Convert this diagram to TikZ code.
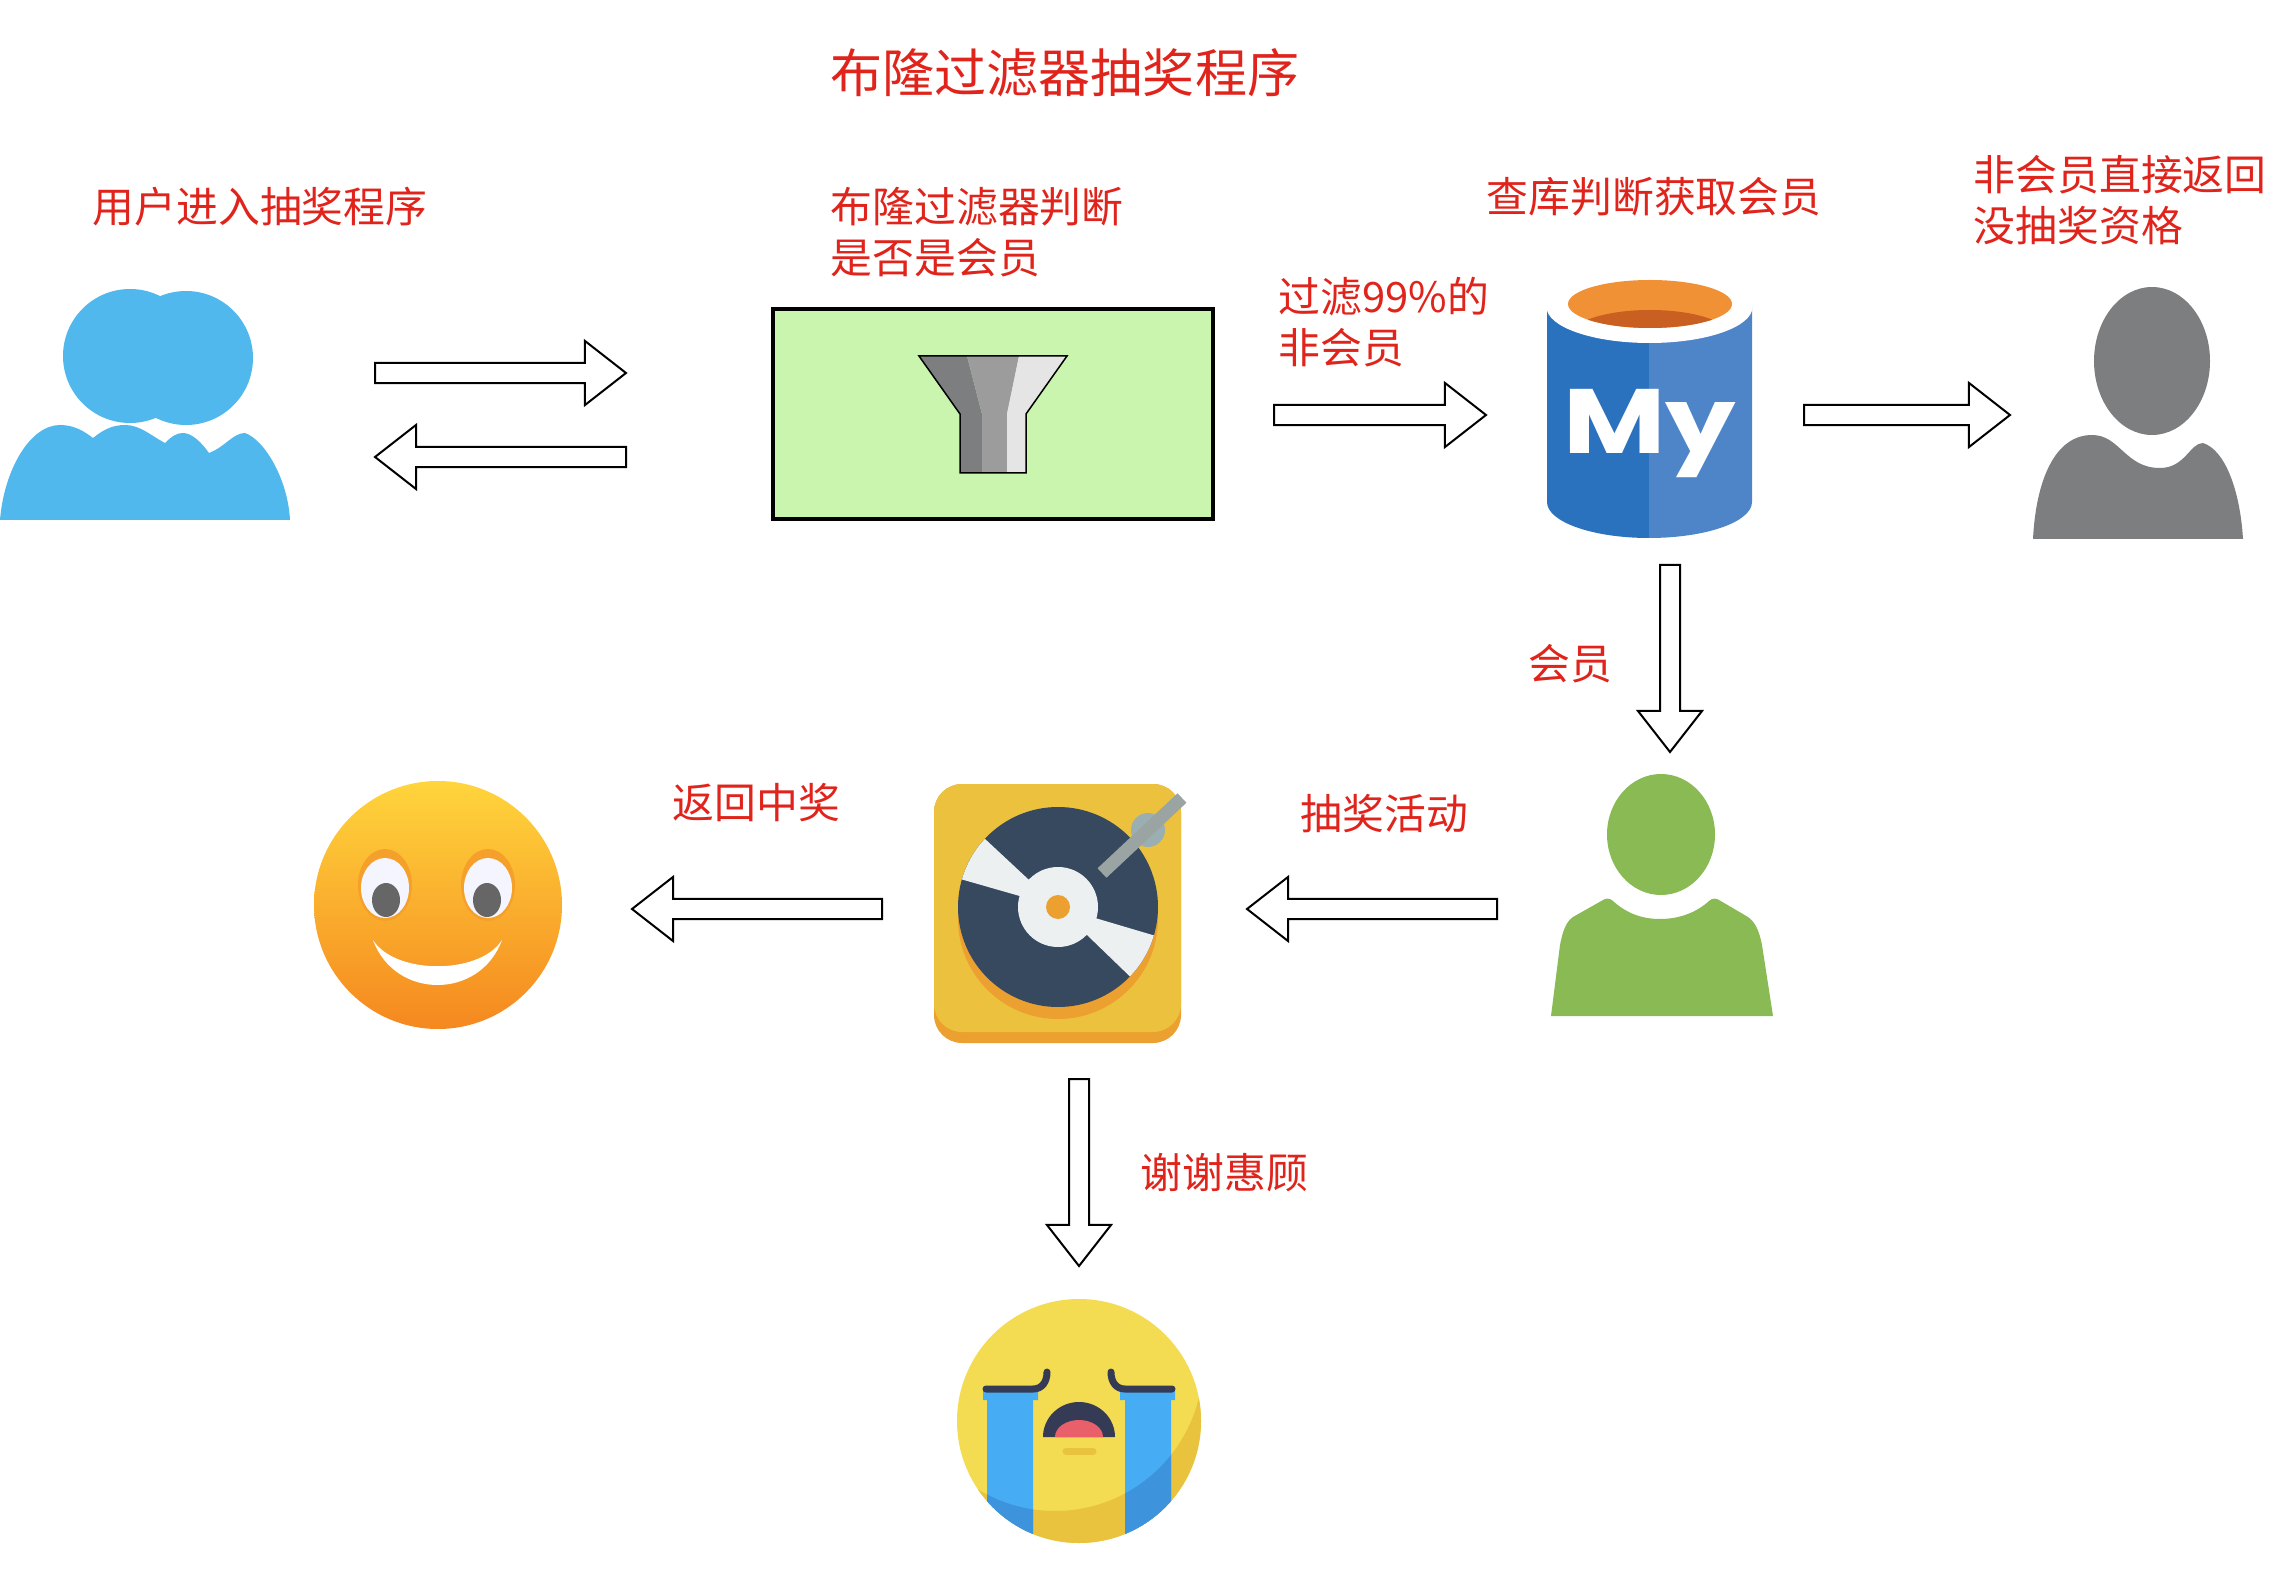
\documentclass[tikz,border=0pt]{standalone}
\usepackage{fontspec}
\usepackage{tikz}
\usetikzlibrary{calc}
\newfontfamily\cjk{Noto Sans CJK SC}
\newfontfamily\myfont{Poppins}
\definecolor{labelred}{HTML}{E0241C}
\definecolor{userblue}{HTML}{50B8EC}
\definecolor{stonegray}{HTML}{7D7E80}
\definecolor{leafgreen}{HTML}{8ABA54}
\definecolor{boxgreen}{HTML}{C9F5AF}
\definecolor{dbleft}{HTML}{2A71BE}
\definecolor{dbright}{HTML}{4E85C9}
\definecolor{dborange}{HTML}{F09135}
\definecolor{dbrust}{HTML}{C95F20}
\definecolor{deckyellow}{HTML}{ECC13D}
\definecolor{deckorange}{HTML}{EBA02F}
\definecolor{discblue}{HTML}{36495F}
\definecolor{discwhite}{HTML}{ECF0F1}
\definecolor{armgray}{HTML}{9AA5A3}
\definecolor{armbase}{HTML}{9BAEB2}
\definecolor{sadyellow}{HTML}{F3DB52}
\definecolor{sadshade}{HTML}{E9C33D}
\definecolor{tearblue}{HTML}{46ADF5}
\definecolor{teardark}{HTML}{3D93DC}
\definecolor{browink}{HTML}{353A55}
\definecolor{mouthpink}{HTML}{E9606A}
\definecolor{smiletop}{HTML}{FFD53C}
\definecolor{smilemid}{HTML}{F9B022}
\definecolor{smilelow}{HTML}{F5881F}
\definecolor{smilehalo}{HTML}{F5A02A}
\tikzset{
  redlabel/.style={anchor=west, inner sep=0pt, align=left, text=labelred, font=\cjk\fontsize{11.9}{14.5}\selectfont},
  blockarrow/.style={draw=black, fill=white, line width=0.02cm, line join=miter}
}
\newcommand{\drawBlockArrow}[2]{
  \coordinate (neck) at ($(#2)!0.41cm!(#1)$);
  \draw[blockarrow] ($(#1)!0.10cm!90:(#2)$) -- ($(neck)!0.10cm!90:(#2)$) -- ($(neck)!0.32cm!90:(#2)$)
    -- (#2) -- ($(neck)!0.32cm!-90:(#2)$) -- ($(neck)!0.10cm!-90:(#2)$) -- ($(#1)!0.10cm!-90:(#2)$) -- cycle;
}

\begin{document}
\begin{tikzpicture}[x=0.01cm, y=-0.01cm]
  \useasboundingbox (0,0) rectangle (2284,1570);

  % labels
  \node[redlabel, font=\cjk\fontsize{14.8}{18}\selectfont] (titleLabel) at (830,73) {布隆过滤器抽奖程序};
  \node[redlabel] (userLabel) at (92,207) {用户进入抽奖程序};
  \node[redlabel] (filterLabel) at (830,232) {布隆过滤器判断\\是否是会员};
  \node[redlabel] (queryLabel) at (1486,197) {查库判断获取会员};
  \node[redlabel] (denyLabel) at (1973,200) {非会员直接返回\\没抽奖资格};
  \node[redlabel] (passLabel) at (1278,322) {过滤99\%的\\非会员};
  \node[redlabel] (memberLabel) at (1528,664) {会员};
  \node[redlabel] (drawLabel) at (1300,814) {抽奖活动};
  \node[redlabel] (winLabel) at (672,803) {返回中奖};
  \node[redlabel] (loseLabel) at (1140,1173) {谢谢惠顾};

  % block arrows
  \coordinate (enterTail) at (375,373);   \coordinate (enterTip) at (626,373);
  \coordinate (backTail) at (626,457);    \coordinate (backTip) at (375,457);
  \coordinate (passTail) at (1274,415);   \coordinate (passTip) at (1486,415);
  \coordinate (denyTail) at (1804,415);   \coordinate (denyTip) at (2010,415);
  \coordinate (memberTail) at (1670,565); \coordinate (memberTip) at (1670,752);
  \coordinate (drawTail) at (1497,909);   \coordinate (drawTip) at (1247,909);
  \coordinate (winTail) at (882,909);     \coordinate (winTip) at (632,909);
  \coordinate (loseTail) at (1079,1079);  \coordinate (loseTip) at (1079,1266);
  \drawBlockArrow{enterTail}{enterTip}
  \drawBlockArrow{backTail}{backTip}
  \drawBlockArrow{passTail}{passTip}
  \drawBlockArrow{denyTail}{denyTip}
  \drawBlockArrow{memberTail}{memberTip}
  \drawBlockArrow{drawTail}{drawTip}
  \drawBlockArrow{winTail}{winTip}
  \drawBlockArrow{loseTail}{loseTip}

  % user
  \fill[userblue] (130,356) circle (67) (186,358) circle (67);
  \fill[userblue] (0,520) .. controls (4,470) and (30,425) .. (60,425) .. controls (75,425) and (85,432) .. (93,438)
    .. controls (103,430) and (112,425) .. (125,425) .. controls (140,425) and (150,435) .. (165,443)
    .. controls (172,436) and (177,433) .. (183,433) .. controls (192,433) and (202,443) .. (209,453)
    .. controls (225,447) and (233,433) .. (245,433) .. controls (265,440) and (288,480) .. (290,520) -- cycle;

  % filter
  \node[draw=black, fill=boxgreen, line width=0.04cm, minimum width=4.40cm, minimum height=2.10cm, inner sep=0pt] (filterBox) at (993,414) {};
  \fill[stonegray] (919,356) -- (967,356) -- (982,414) -- (982,473) -- (960,473) -- (960,414) -- cycle;
  \fill[black!39] (967,356) -- (1019,356) -- (1007,414) -- (1007,473) -- (982,473) -- (982,414) -- cycle;
  \fill[black!10] (1019,356) -- (1067,356) -- (1026,414) -- (1026,473) -- (1007,473) -- (1007,414) -- cycle;
  \draw[black, line width=0.015cm] (919,356) -- (1067,356) -- (1026,414) -- (1026,473) -- (960,473) -- (960,414) -- cycle;

  % database
  \fill[dbleft] (1547,307) -- (1547,502) arc[start angle=180, end angle=90, x radius=102, y radius=36] -- (1649,307) -- cycle;
  \fill[dbright] (1649,307) -- (1649,538) arc[start angle=90, end angle=0, x radius=103, y radius=36] -- (1752,307) -- cycle;
  \fill[white] (1649.5,307) ellipse [x radius=103, y radius=36];
  \fill[dborange] (1650,304) ellipse [x radius=82, y radius=24];
  \begin{scope}
    \clip (1650,304) ellipse [x radius=82, y radius=24];
    \fill[dbrust] (1650,336) ellipse [x radius=80, y radius=26];
  \end{scope}
  \node[inner sep=0pt, text=white, xscale=1.22, font=\myfont\bfseries\fontsize{26}{26}\selectfont] (dbText) at (1650,434) {My};

  % refused visitor
  \fill[stonegray] (2152,361) ellipse [x radius=58, y radius=74];
  \fill[stonegray] (2033,539) .. controls (2036,480) and (2055,435) .. (2092,435) .. controls (2120,435) and (2125,468) .. (2160,468)
    .. controls (2185,468) and (2190,443) .. (2203,443) .. controls (2225,450) and (2240,490) .. (2243,539) -- cycle;

  % member
  \fill[leafgreen] (1661,834.5) ellipse [x radius=54, y radius=60.5];
  \fill[leafgreen] (1551,1016) -- (1560,945) .. controls (1563,930) and (1566,922) .. (1573,917) -- (1603,900) .. controls (1606,898) and (1610,898) .. (1613,901)
    .. controls (1625,912) and (1640,919) .. (1660,919) .. controls (1680,919) and (1697,912) .. (1709,901)
    .. controls (1712,898) and (1716,898) .. (1719,900) -- (1748,917) .. controls (1755,922) and (1759,930) .. (1762,945) -- (1773,1016) -- cycle;

  % turntable
  \coordinate (disc) at (1058,907);
  \fill[deckorange, rounded corners=0.28cm] (934,784) rectangle (1181,1043);
  \fill[deckyellow, rounded corners=0.28cm] (934,784) rectangle (1181,1032);
  \fill[deckorange] ($(disc)+(0,12)$) circle (100);
  \fill[discblue] (disc) circle (100);
  \fill[discwhite] (disc) -- +(-137:100) arc[start angle=-137, end angle=-164, radius=100] -- cycle;
  \fill[discwhite] (disc) -- +(16.5:100) arc[start angle=16.5, end angle=44, radius=100] -- cycle;
  \fill[discwhite] (disc) circle (40);
  \fill[deckorange] (disc) circle (12);
  \fill[armbase] (1148,830) circle (17);
  \draw[armgray, line width=0.13cm] (1102,873) -- (1182,798);

  % prize smile
  \coordinate (smile) at (438,905);
  \shade[top color=smiletop, middle color=smilemid, bottom color=smilelow] (smile) circle (124);
  \fill[smilehalo] (385,885) ellipse [x radius=27, y radius=36] (488,885) ellipse [x radius=27, y radius=36];
  \fill[blue!4] (385,888) ellipse [x radius=24, y radius=30] (488,888) ellipse [x radius=24, y radius=30];
  \fill[black!60] (386,900) ellipse [x radius=14, y radius=17] (487,900) ellipse [x radius=14, y radius=17];
  \fill[white] (373,940) .. controls (395,1000) and (480,1000) .. (502,940) .. controls (480,975) and (395,975) .. (373,940) -- cycle;

  % sad face
  \coordinate (sad) at (1079,1421);
  \fill[sadyellow] (sad) circle (122);
  \begin{scope}
    \clip (sad) circle (122);
    \fill[sadshade, even odd rule] (900,1240) rectangle (1260,1600) (1055,1363) circle (148);
    \fill[tearblue] (987,1397) rectangle (1033,1560) (1125,1397) rectangle (1171,1560);
  \end{scope}
  \begin{scope}[even odd rule]
    \clip (sad) circle (122);
    \clip (900,1240) rectangle (1260,1600) (1055,1363) circle (148);
    \fill[teardark] (987,1397) rectangle (1033,1560) (1125,1397) rectangle (1171,1560);
  \end{scope}
  \fill[tearblue] (983,1391) rectangle (1038,1400) (1120,1391) rectangle (1175,1400);
  \draw[browink, line width=0.07cm, line cap=round] (986,1389) -- (1033,1389) .. controls (1042,1389) and (1047,1382) .. (1047,1372);
  \draw[browink, line width=0.07cm, line cap=round] (1172,1389) -- (1125,1389) .. controls (1116,1389) and (1111,1382) .. (1111,1372);
  \fill[browink] (1043,1437) arc[start angle=180, end angle=360, x radius=36, y radius=35] -- cycle;
  \fill[mouthpink] (1055,1437) arc[start angle=180, end angle=360, x radius=24, y radius=17] -- cycle;
  \draw[sadshade, line width=0.07cm, line cap=round] (1066,1451) -- (1093,1451);
\end{tikzpicture}
\end{document}
